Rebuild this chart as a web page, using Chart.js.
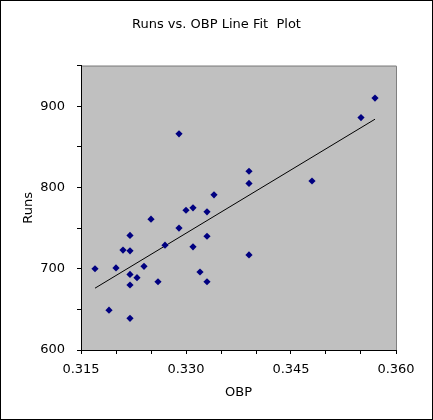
<!DOCTYPE html>
<html>
<head>
<meta charset="utf-8">
<script src="https://cdn.jsdelivr.net/npm/chart.js@4"></script>
<style>
  html, body { margin: 0; padding: 0; background: #fff; }
  #wrap { width: 433px; height: 420px; position: relative; }
</style>
</head>
<body>
<div id="wrap"><canvas id="chart" width="433" height="420"></canvas></div>
<script>
// OBP vs Runs
const obp = [0.317, 0.319, 0.320, 0.321, 0.322, 0.322, 0.322, 0.322, 0.322, 0.323,
  0.324, 0.325, 0.326, 0.327, 0.329, 0.329, 0.330, 0.331, 0.331, 0.332,
  0.333, 0.333, 0.333, 0.334, 0.339, 0.339, 0.339, 0.348, 0.355, 0.357];
const runs = [700, 649, 701, 723, 741, 722, 693, 680, 639, 689,
  703, 761, 684, 729, 866, 750, 772, 775, 727, 696,
  770, 740, 684, 791, 820, 805, 717, 808, 886, 910];
const xTickLabels = ["0.315", "0.330", "0.345", "0.360"];
const yTickLabels = ["600", "700", "800", "900"];

const points = obp.map((x, i) => ({ x, y: runs[i] }));

// least squares line through the same points
const n = obp.length;
const mx = obp.reduce((a, b) => a + b, 0) / n;
const my = runs.reduce((a, b) => a + b, 0) / n;
let sxy = 0, sxx = 0;
obp.forEach((x, i) => { sxy += (x - mx) * (runs[i] - my); sxx += (x - mx) * (x - mx); });
const slope = sxy / sxx;
const icpt = my - slope * mx;
const xMin = Math.min(...obp), xMax = Math.max(...obp);
const fitLine = [{ x: xMin, y: icpt + slope * xMin }, { x: xMax, y: icpt + slope * xMax }];

const FONT = "'DejaVu Sans', Verdana, sans-serif";

const plotBg = {
  id: "plotBg",
  beforeDraw(chart) {
    const { ctx, chartArea: a } = chart;
    ctx.save();
    ctx.fillStyle = "#fff";
    ctx.fillRect(0, 0, chart.width, chart.height);
    ctx.strokeStyle = "#000";
    ctx.lineWidth = 1;
    ctx.strokeRect(0.5, 0.5, chart.width - 1, chart.height - 1);
    ctx.fillStyle = "#c0c0c0";
    ctx.fillRect(a.left, a.top, a.right - a.left, a.bottom - a.top);
    ctx.strokeStyle = "#808080";
    ctx.beginPath();
    ctx.moveTo(a.left, a.top + 0.5);
    ctx.lineTo(a.right + 0.5, a.top + 0.5);
    ctx.lineTo(a.right + 0.5, a.bottom);
    ctx.stroke();
    ctx.restore();
  }
};

function noPad(scale) {
  scale.paddingTop = 0;
  scale.paddingBottom = 0;
  scale.paddingLeft = 0;
  scale.paddingRight = 0;
}

new Chart(document.getElementById("chart"), {
  type: "scatter",
  data: {
    datasets: [
      {
        label: "Runs",
        data: points,
        pointStyle: "rectRot",
        pointRadius: 3.6,
        backgroundColor: "#000080",
        borderColor: "#000080",
        borderWidth: 0,
        order: 1
      },
      {
        label: "Predicted Runs",
        type: "line",
        data: fitLine,
        borderColor: "#000",
        borderWidth: 1,
        pointRadius: 0,
        fill: false,
        order: 2
      }
    ]
  },
  options: {
    responsive: false,
    animation: false,
    layout: { padding: 0 },
    plugins: {
      legend: { display: false },
      tooltip: { enabled: false },
      title: {
        display: true,
        text: "Runs vs. OBP Line Fit  Plot",
        color: "#000",
        font: { family: FONT, size: 13, weight: "normal" },
        padding: { top: 17, bottom: 33 }
      }
    },
    scales: {
      x: {
        type: "linear",
        min: 0.315,
        max: 0.360,
        afterBuildTicks(scale) {
          const t = [];
          for (let i = 0; i <= 9; i++) t.push({ value: +(0.315 + i * 0.005).toFixed(3) });
          scale.ticks = t;
        },
        afterFit(scale) { scale.height = 70; noPad(scale); },
        grid: {
          drawOnChartArea: false,
          drawTicks: true,
          tickLength: 4,
          color: "#000",
          tickColor: "#000"
        },
        border: { display: true, color: "#000", width: 1 },
        ticks: {
          autoSkip: false,
          maxRotation: 0,
          color: "#000",
          padding: 8,
          font: { family: FONT, size: 13 },
          callback(v) {
            const s = Number(v).toFixed(3);
            return xTickLabels.includes(s) ? s : "";
          }
        },
        title: {
          display: true,
          text: "OBP",
          color: "#000",
          font: { family: FONT, size: 13 },
          padding: { top: 0, bottom: 20 }
        }
      },
      y: {
        type: "linear",
        min: 600,
        max: 950,
        afterBuildTicks(scale) {
          const t = [];
          for (let v = 600; v <= 950; v += 50) t.push({ value: v });
          scale.ticks = t;
        },
        afterFit(scale) { scale.width = 81; noPad(scale); },
        grid: {
          drawOnChartArea: false,
          drawTicks: true,
          tickLength: 4,
          color: "#000",
          tickColor: "#000"
        },
        border: { display: true, color: "#000", width: 1 },
        ticks: {
          autoSkip: false,
          color: "#000",
          padding: 12,
          font: { family: FONT, size: 13 },
          callback(v) {
            const s = String(v);
            return yTickLabels.includes(s) ? s : "";
          }
        },
        title: {
          display: true,
          text: "Runs",
          color: "#000",
          font: { family: FONT, size: 13 },
          padding: { top: 21, bottom: 0 }
        }
      },
      // empty axis that only reserves the white margin on the right
      yRight: {
        type: "linear",
        position: "right",
        display: true,
        grid: { display: false },
        border: { display: false },
        ticks: { display: false },
        afterFit(scale) { scale.width = 37; noPad(scale); }
      }
    }
  },
  plugins: [plotBg]
});
</script>
</body>
</html>
